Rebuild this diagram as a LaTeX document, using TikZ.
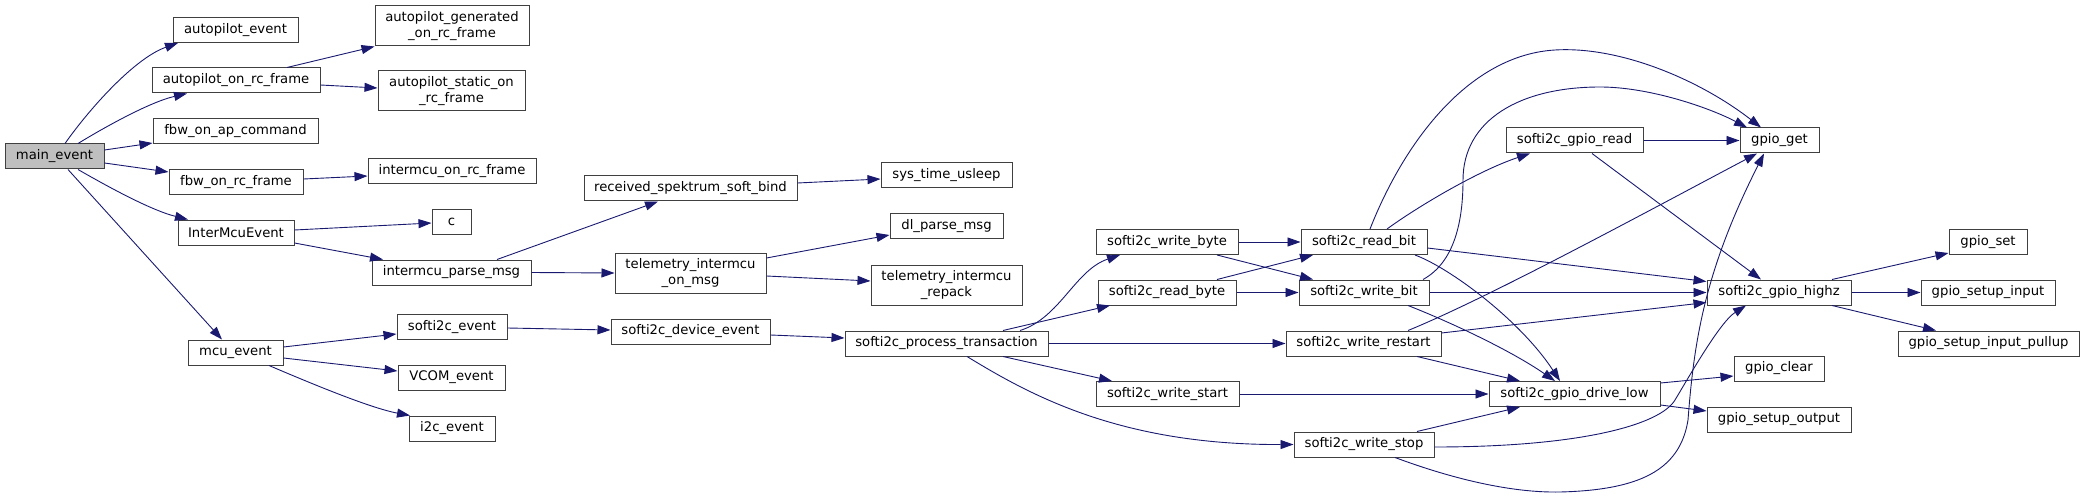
\documentclass[tikz,border=0pt]{standalone}
\usepackage{fontspec}
\setmainfont{DejaVu Sans}
\usetikzlibrary{arrows.meta}
\definecolor{edgec}{HTML}{191970}
\definecolor{boxc}{HTML}{404040}
\definecolor{rootc}{HTML}{BFBFBF}
\tikzset{
  fn/.style={draw=boxc, line width=1pt, fill=white, rectangle, inner sep=0pt,
    minimum height=25pt, align=center, font=\fontsize{13.2}{15.3}\selectfont},
  ed/.style={draw=edgec, line width=0.9pt, -{Triangle[length=13pt,width=9pt]}},
}
\begin{document}
\begin{tikzpicture}[x=1pt,y=-1pt]
\useasboundingbox (0,0) rectangle (2084,497);
% column 1
\node[fn, fill=rootc, minimum width=99pt] (main) at (54.5,156.5) {main\_event};
% column 2
\node[fn, minimum width=125pt] (ape) at (235.5,30) {autopilot\_event};
\node[fn, minimum width=168pt] (aporc) at (236,80.5) {autopilot\_on\_rc\_frame};
\node[fn, minimum width=165pt] (fbwap) at (235.5,131.5) {fbw\_on\_ap\_command};
\node[fn, minimum width=134pt] (fbwrc) at (236,182) {fbw\_on\_rc\_frame};
\node[fn, minimum width=116pt] (imev) at (236,232.5) {InterMcuEvent};
\node[fn, minimum width=95pt] (mcu) at (235.5,352.5) {mcu\_event};
% column 3
\node[fn, minimum width=154pt, minimum height=40pt] (apgen) at (452,26) {autopilot\_generated\\\_on\_rc\_frame};
\node[fn, minimum width=147pt, minimum height=40pt] (apstat) at (451.5,91) {autopilot\_static\_on\\\_rc\_frame};
\node[fn, minimum width=168pt] (imrc) at (452,171.5) {intermcu\_on\_rc\_frame};
\node[fn, minimum width=39pt] (c) at (451.5,222) {c};
\node[fn, minimum width=159pt] (impm) at (451.5,272.5) {intermcu\_parse\_msg};
\node[fn, minimum width=110pt] (s2ev) at (452,327) {softi2c\_event};
\node[fn, minimum width=107pt] (vcom) at (451.5,377.5) {VCOM\_event};
\node[fn, minimum width=86pt] (i2c) at (452,428.5) {i2c\_event};
% column 4
\node[fn, minimum width=213pt] (rssb) at (690.5,188.5) {received\_spektrum\_soft\_bind};
\node[fn, minimum width=151pt, minimum height=40pt] (tom) at (690.5,273) {telemetry\_intermcu\\\_on\_msg};
\node[fn, minimum width=159pt] (sde) at (690.5,331.5) {softi2c\_device\_event};
% column 5
\node[fn, minimum width=131pt] (stu) at (946.5,175) {sys\_time\_usleep};
\node[fn, minimum width=113pt] (dlp) at (946.5,226) {dl\_parse\_msg};
\node[fn, minimum width=151pt, minimum height=40pt] (trp) at (946.5,285) {telemetry\_intermcu\\\_repack};
\node[fn, minimum width=203pt] (spt) at (946.5,343.5) {softi2c\_process\_transaction};
% column 6
\node[fn, minimum width=142pt] (wbyte) at (1167,242) {softi2c\_write\_byte};
\node[fn, minimum width=138pt] (rbyte) at (1167,292.5) {softi2c\_read\_byte};
\node[fn, minimum width=143pt] (wstart) at (1167.5,394) {softi2c\_write\_start};
% column 7
\node[fn, minimum width=126pt] (rbit) at (1364,242) {softi2c\_read\_bit};
\node[fn, minimum width=130pt] (wbit) at (1364,292.5) {softi2c\_write\_bit};
\node[fn, minimum width=155pt] (wrst) at (1363.5,343.5) {softi2c\_write\_restart};
\node[fn, minimum width=140pt] (wstop) at (1364,444.5) {softi2c\_write\_stop};
% column 8
\node[fn, minimum width=137pt] (grd) at (1574.5,140.5) {softi2c\_gpio\_read};
\node[fn, minimum width=171pt] (gdl) at (1574.5,394) {softi2c\_gpio\_drive\_low};
% column 9
\node[fn, minimum width=79pt] (gget) at (1779.5,140.5) {gpio\_get};
\node[fn, minimum width=144pt] (ghz) at (1779,292.5) {softi2c\_gpio\_highz};
\node[fn, minimum width=90pt] (gclr) at (1779,368.5) {gpio\_clear};
\node[fn, minimum width=144pt] (gso) at (1779,419.5) {gpio\_setup\_output};
% column 10
\node[fn, minimum width=78pt] (gset) at (1988,242) {gpio\_set};
\node[fn, minimum width=134pt] (gsi) at (1988,292.5) {gpio\_setup\_input};
\node[fn, minimum width=181pt] (gsip) at (1988.5,343.5) {gpio\_setup\_input\_pullup};

% edges
\draw[ed] ([xshift=10.5pt]main.north) .. controls (90,108) and (135,58) .. ([xshift=-57.5pt]ape.south);
\draw[ed] ([xshift=23.5pt]main.north) .. controls (105,127) and (150,102) .. ([xshift=-49pt]aporc.south);
\draw[ed] ([yshift=6.5pt]main.east) -- ([yshift=1.5pt]fbwap.south west);
\draw[ed] ([yshift=-6.5pt]main.east) -- ([yshift=-3pt]fbwrc.north west);
\draw[ed] ([xshift=23.5pt]main.south) .. controls (105,185) and (150,210) .. ([xshift=-48pt]imev.north);
\draw[ed] ([xshift=13.5pt]main.south) -- ([xshift=-13.5pt]mcu.north);
\draw[ed] ([xshift=51pt]aporc.north) -- (apgen.south west);
\draw[ed] ([yshift=-4.5pt]aporc.east) -- ([yshift=3pt]apstat.west);
\draw[ed] ([yshift=3pt]fbwrc.east) -- ([yshift=-4.5pt]imrc.west);
\draw[ed] ([yshift=2.5pt]imev.east) -- ([yshift=-1pt]c.west);
\draw[ed] ([yshift=-10.5pt]imev.east) -- ([xshift=-68.5pt]impm.north);
\draw[ed] ([xshift=45.5pt]impm.north) -- ([xshift=-32.5pt]rssb.south);
\draw[ed] (impm.east) -- (tom.west);
\draw[ed] ([yshift=15pt]tom.east) -- ([yshift=-9pt]dlp.west);
\draw[ed] ([yshift=-3pt]tom.east) -- ([yshift=4pt]trp.west);
\draw[ed] ([yshift=5.5pt]rssb.east) -- ([yshift=-4pt]stu.west);
\draw[ed] ([yshift=5.5pt]mcu.east) -- ([yshift=-7pt]s2ev.west);
\draw[ed] ([yshift=-5.5pt]mcu.east) -- ([yshift=6.5pt]vcom.west);
\draw[ed] ([xshift=33.5pt]mcu.south) .. controls (310,383) and (370,408) .. ([xshift=-42pt]i2c.north);
\draw[ed] ([yshift=-1pt]s2ev.east) -- ([yshift=1.5pt]sde.west);
\draw[ed] ([yshift=-3.5pt]sde.east) -- ([yshift=5.5pt]spt.west);
\draw[ed] ([xshift=73.5pt]spt.north) .. controls (1060,318) and (1075,270) .. ([xshift=-47pt]wbyte.south);
\draw[ed] ([xshift=56.5pt]spt.north) -- ([xshift=-57pt]rbyte.south);
\draw[ed] (spt.east) -- (wrst.west);
\draw[ed] ([xshift=56.5pt]spt.south) -- ([xshift=-55.5pt]wstart.north);
\draw[ed] ([xshift=20.5pt]spt.south) .. controls (1030,395) and (1120,445) .. (wstop.west);
\draw[ed] (wbyte.east) -- (rbit.west);
\draw[ed] ([xshift=50pt]wbyte.south) -- ([xshift=-51pt]wbit.north);
\draw[ed] ([xshift=50pt]rbyte.north) -- ([xshift=-51pt]rbit.south);
\draw[ed] (rbyte.east) -- (wbit.west);
\draw[ed] ([xshift=6pt]rbit.north) .. controls (1405,140) and (1470,55) .. (1555,50) .. controls (1620,46) and (1700,80) .. ([xshift=-18.5pt]gget.north);
\draw[ed] ([xshift=23pt]rbit.north) .. controls (1420,205) and (1480,170) .. ([xshift=-44.5pt]grd.south);
\draw[ed] ([yshift=-6pt]rbit.east) -- ([yshift=-2pt]ghz.north west);
\draw[ed] ([xshift=51pt]rbit.south) .. controls (1450,268) and (1520,320) .. ([xshift=-14.5pt]gdl.north);
\draw[ed] ([xshift=59pt]wbit.north) .. controls (1455,262) and (1463,220) .. (1463,180) .. controls (1463,120) and (1520,87) .. (1600,87) .. controls (1650,87) and (1710,108) .. ([xshift=-32.5pt]gget.north);
\draw[ed] (wbit.east) -- (ghz.west);
\draw[ed] ([xshift=44pt]wbit.south) .. controls (1450,322) and (1510,350) .. ([xshift=-19.5pt]gdl.north);
\draw[ed] ([xshift=44.5pt]wrst.north) .. controls (1490,297) and (1650,210) .. ([xshift=-22.5pt]gget.south);
\draw[ed] ([yshift=10.5pt]wrst.east) -- ([yshift=3pt]ghz.south west);
\draw[ed] ([xshift=53.5pt]wrst.south) -- ([xshift=-54.5pt]gdl.north);
\draw[ed] (wstart.east) -- (gdl.west);
\draw[ed] ([xshift=53pt]wstop.north) -- ([xshift=-54.5pt]gdl.south);
\draw[ed] ([yshift=-2.5pt]wstop.east) .. controls (1580,447) and (1660,425) .. (1675,400) .. controls (1690,375) and (1720,322) .. ([xshift=-33pt]ghz.south);
\draw[ed] ([xshift=31pt]wstop.south) .. controls (1450,478) and (1510,493) .. (1560,492) .. controls (1640,490) and (1680,470) .. (1688,420) .. controls (1694,340) and (1705,270) .. ([xshift=-15.5pt]gget.south);
\draw[ed] (grd.east) -- (gget.west);
\draw[ed] ([xshift=17.5pt]grd.south) -- ([xshift=-18pt]ghz.north);
\draw[ed] ([xshift=53pt]ghz.north) -- ([yshift=2pt]gset.south west);
\draw[ed] (ghz.east) -- (gsi.west);
\draw[ed] ([xshift=53pt]ghz.south) -- ([xshift=-52.5pt]gsip.north);
\draw[ed] ([yshift=11pt]gdl.east) -- ([yshift=-7.5pt]gclr.west);
\draw[ed] ([yshift=-11pt]gdl.east) -- ([yshift=8.5pt]gso.west);
\end{tikzpicture}
\end{document}
